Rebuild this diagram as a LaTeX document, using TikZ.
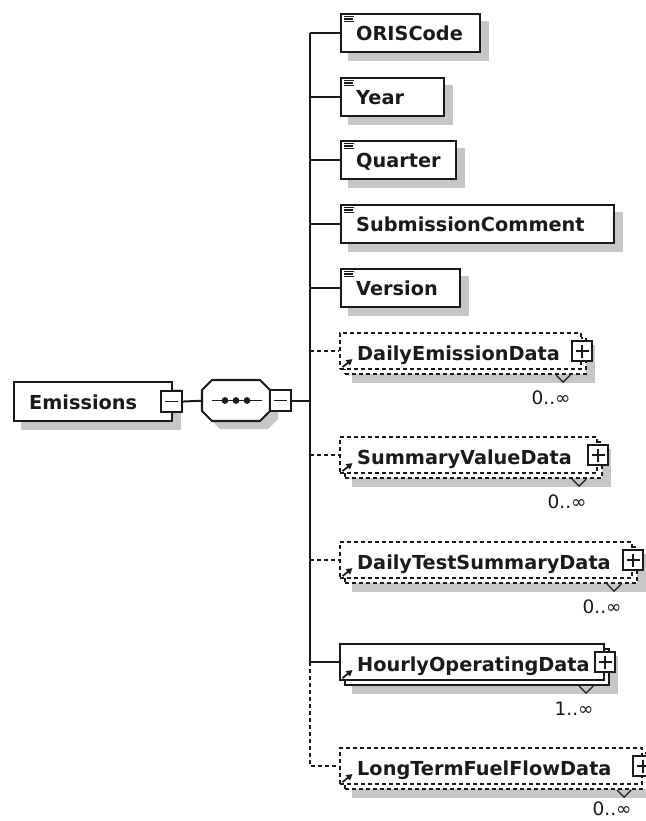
\documentclass[tikz,border=0pt]{standalone}
\usepackage{fontspec}
\setmainfont{DejaVu Sans}
\usetikzlibrary{arrows.meta,backgrounds}
\definecolor{ln}{HTML}{1A1A1A}
\definecolor{shd}{HTML}{C6C6C6}
\tikzset{
  box/.style={draw=ln, line width=2.1pt, fill=white, inner sep=0pt, anchor=north west},
  dbox/.style={box, dash pattern=on 4pt off 3pt},
  lbl/.style={anchor=base west, inner sep=0pt, font=\fontsize{19.3}{20}\selectfont\bfseries, text=ln},
  card/.style={inner sep=0pt, font=\fontsize{18.5}{20}\selectfont, text=ln},
  conn/.style={draw=ln, line width=2pt},
  dconn/.style={conn, dash pattern=on 4pt off 3pt},
  icon/.style={draw=ln, line width=1.3pt},
  refarrow/.style={draw=ln, line width=1.8pt, -{Triangle[length=6pt,width=6.5pt]}},
  vmark/.style={draw=ln, line width=1.3pt},
  btn/.style={draw=ln, line width=1.7pt, fill=white, minimum size=20pt, inner sep=0pt},
  plusbtn/.style={btn, path picture={\draw[ln, line width=1.6pt]
      ([xshift=-6.5pt]path picture bounding box.center) -- ([xshift=6.5pt]path picture bounding box.center)
      ([yshift=-6.5pt]path picture bounding box.center) -- ([yshift=6.5pt]path picture bounding box.center);}},
  minusbtn/.style={btn, minimum size=21pt, path picture={\draw[ln, line width=1.6pt]
      ([xshift=-6.5pt]path picture bounding box.center) -- ([xshift=6.5pt]path picture bounding box.center);}},
}
\begin{document}
\begin{tikzpicture}[x=1pt,y=-1pt]
\useasboundingbox (0,0) rectangle (645,821);
\coordinate (trunk) at (310,0);

% ---------- root element ----------
\node[box, minimum width=158pt, minimum height=39pt] (emis) at (13,381) {};
\node[lbl] (emist) at ([shift={(16,7.5)}]emis.west) {Emissions};
\node[minusbtn] (emisb) at ([xshift=-1.5pt]emis.east) {};

% ---------- sequence compositor ----------
\node[minimum width=68pt, minimum height=41pt, inner sep=0pt, anchor=north west] (seq) at (202,380) {};
\draw[ln, line width=2.1pt, fill=white] (212,380) -- (260,380) -- (270,390) -- (270,411) -- (260,421)
  -- (212,421) -- (202,411) -- (202,390) -- cycle;
\draw[conn, line width=1.7pt] (212,400.5) -- (262,400.5);
\fill[ln] (225,400.5) circle (3.4) (236,400.5) circle (3.4) (247,400.5) circle (3.4);
\node[minusbtn] (seqb) at (280.5,400.5) {};

\draw[conn] (emisb.east) -- (seq.west);
\draw[conn] (seqb.east) -- (trunk |- seqb.east);

% ---------- simple child elements ----------
\foreach \n/\w/\y/\t in {oris/139/13/ORISCode, year/103/77/Year, quarter/115/140/Quarter,
    sub/273/204/SubmissionComment, ver/119/268/Version}{
  \node[box, minimum width=\w pt, minimum height=38pt] (\n) at (340,\y) {};
  \node[lbl] (\n t) at ([shift={(16,7.5)}]\n.west) {\t};
  \draw[icon] ([shift={(3.5,3.2)}]\n.north west) -- ++(10,0)
              ([shift={(3.5,5.9)}]\n.north west) -- ++(9,0)
              ([shift={(3.5,8.6)}]\n.north west) -- ++(10,0);
  \draw[conn] (trunk |- \n.west) -- (\n.west);
}

% ---------- complex (repeated) child elements ----------
\foreach \n/\w/\y/\t/\c/\s/\cy in {de/241/332/DailyEmissionData/0/dbox/23, sv/257/436/SummaryValueData/0/dbox/23,
    dts/292/541/DailyTestSummaryData/0/dbox/23, ho/264/643/HourlyOperatingData/1/box/23,
    lt/302/747/LongTermFuelFlowData/0/dbox/19}{
  \node[\s, minimum width=\w pt, minimum height=36pt] (\n b) at (344,\y+5) {};
  \node[\s, minimum width=\w pt, minimum height=36pt] (\n) at (339,\y) {};
  \node[lbl] (\n t) at ([shift={(18,9.5)}]\n.west) {\t};
  \node[plusbtn] (\n p) at (\n.east) {};
  \draw[refarrow] ([shift={(3.5,-3)}]\n.south west) -- ++(10,-8);
  \draw[vmark] ([xshift=-31pt]\n b.south east) -- ++(7,7) -- ++(7,-7);
  \node[card] (\n c) at ([shift={(-36,\cy)}]\n b.south east) {\c..∞};
}

% connectors of the complex children
\draw[dconn] (trunk |- de.west) -- (de.west);
\draw[dconn] (trunk |- sv.west) -- (sv.west);
\draw[dconn] (trunk |- dts.west) -- (dts.west);
\draw[conn] (trunk |- ho.west) -- (ho.west);
\draw[conn] (trunk |- oris.west) -- (trunk |- ho.west);
\draw[dconn] (trunk |- ho.west) -- (trunk |- lt.west) -- (lt.west);

% ---------- shadows ----------
\begin{scope}[on background layer]
  \fill[white] (0,0) rectangle (645,821);
  \foreach \n in {oris,year,quarter,sub,ver,emis}
    \fill[shd] ([shift={(8,8)}]\n.north west) rectangle ([shift={(8,8)}]\n.south east);
  \foreach \n in {de,sv,dts,ho,lt}
    \fill[shd] ([shift={(8,8)}]\n b.north west) rectangle ([shift={(8,8)}]\n b.south east);
  \fill[shd] (220,388) -- (268,388) -- (278,398) -- (278,419) -- (268,429)
    -- (220,429) -- (210,419) -- (210,398) -- cycle;
\end{scope}
\end{tikzpicture}
\end{document}
